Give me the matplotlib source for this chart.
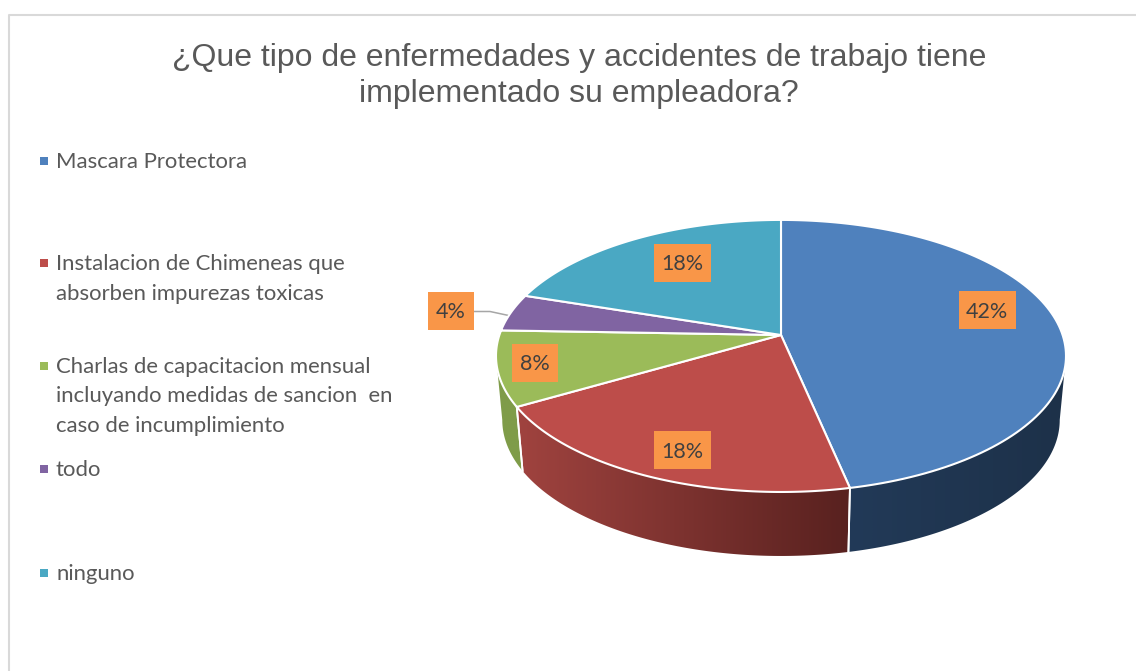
import numpy as np
import matplotlib
matplotlib.use("Agg")
import matplotlib.pyplot as plt
from matplotlib.colors import to_rgb, LinearSegmentedColormap
from matplotlib.patches import Polygon, Rectangle

# ---- data
categories = ["Mascara Protectora",
              "Instalacion de Chimeneas que\nabsorben impurezas toxicas",
              "Charlas de capacitacion mensual\nincluyando medidas de sancion  en\ncaso de incumplimiento",
              "todo",
              "ninguno"]
values = [42, 18, 8, 4, 18]
value_labels = ["42%", "18%", "8%", "4%", "18%"]
title_lines = "¿Que tipo de enfermedades y accidentes de trabajo tiene\nimplementado su empleadora?"

# ---- styles and layout (pixel coordinates)
colors = ["#4f81bd", "#bd4d4a", "#9bbb59", "#8064a2", "#4aa8c3"]
wall_left = ["#223a58", "#a0433f", "#7f9c49", "#5f4a7a", "#357f94"]
wall_right = ["#1d3149", "#58211f", "#7f9c49", "#5f4a7a", "#357f94"]
legend_y = [161, 263, 366, 469, 573]
label_pos = [(987, 310), (682, 450), (535, 363), (451, 311), (682, 263)]
CX, CY = 781.0, 335.0
A, B, K = 132.8, 281.6, 0.154
DEPTH, SHRINK = 64.0, 0.978

fig = plt.figure(figsize=(11.36, 6.71), dpi=100, facecolor="white")
ax = fig.add_axes([0, 0, 1, 1])
ax.set_xlim(0, 1136)
ax.set_ylim(671, 0)
ax.axis("off")

# chart frame
ax.plot([8.5, 8.5, 1136], [671, 14.5, 14.5], color="#d9d9d9", lw=1.5, zorder=1)


def top(theta_deg, r=1.0):
    t = np.radians(theta_deg)
    X, Y = r * np.sin(t), r * np.cos(t)
    d = 1 + K * Y
    return CX + B * X / d, CY - A * Y / d


def bottom(theta_deg):
    x, y = top(theta_deg)
    return CX + (x - CX) * SHRINK, y + DEPTH


angles = np.concatenate([[0], np.cumsum(values) / np.sum(values) * 360.0])
# the wall runs between the two silhouette points of the perspective ellipse
SIL = np.degrees(np.arcsin(K))
WALL_LO, WALL_HI = 90.0 + SIL, 270.0 - SIL

# side walls (front half only), a horizontal gradient clipped to each wall
for i in range(len(values)):
    a0, a1 = max(angles[i], WALL_LO), min(angles[i + 1], WALL_HI)
    if a1 <= a0:
        continue
    th = np.linspace(a0, a1, 120)
    tx, ty = top(th)
    bx, by = bottom(th)
    pts = np.column_stack([np.r_[tx, bx[::-1]], np.r_[ty, by[::-1]]])
    poly = Polygon(pts, closed=True, fc="none", ec="none", transform=ax.transData)
    ax.add_patch(poly)
    cmap = LinearSegmentedColormap.from_list("w", [to_rgb(wall_left[i]), to_rgb(wall_right[i])])
    im = ax.imshow(np.linspace(0, 1, 256)[None, :], cmap=cmap, aspect="auto", zorder=2,
                   extent=(pts[:, 0].min(), pts[:, 0].max(), pts[:, 1].max(), pts[:, 1].min()),
                   interpolation="bilinear")
    im.set_clip_path(poly)
    for a in (a0, a1):
        if WALL_LO < a < WALL_HI:
            p, q = top(a), bottom(a)
            ax.plot([p[0], q[0]], [p[1], q[1]], color="white", lw=1.3, zorder=3)
ax.set_xlim(0, 1136)
ax.set_ylim(671, 0)

# top face
for i in range(len(values)):
    th = np.linspace(angles[i], angles[i + 1], 120)
    xs, ys = top(th)
    pts = np.column_stack([np.r_[CX, xs], np.r_[CY, ys]])
    ax.add_patch(Polygon(pts, closed=True, fc=colors[i], ec="white", lw=1.5,
                         joinstyle="round", zorder=4))

# leader line for the small slice
ax.plot([474, 490, 511], [311.5, 311.5, 316], color="#a6a6a6", lw=1.1, zorder=3)

# data labels
label_font = ["Lato", "DejaVu Sans"]
for (x, y), s in zip(label_pos, value_labels):
    w = 57 if len(s) == 3 else 46
    ax.add_patch(Rectangle((x - w / 2, y - 19), w, 38, fc="#f99648", ec="none", zorder=5))
    ax.text(x, y + 1.5, s, ha="center", va="center", fontsize=15.5, color="#404040",
            family=label_font, zorder=6)

# legend
for name, y, c in zip(categories, legend_y, colors):
    ax.add_patch(Rectangle((40, y - 4), 7.5, 7.5, fc=c, ec="none", zorder=5))
    for j, line in enumerate(name.split("\n")):
        ax.text(56, y + 7 + j * 29.5, line, ha="left", va="baseline",
                fontsize=15.9, color="#595959", family=label_font, zorder=6)

# title
for j, line in enumerate(title_lines.split("\n")):
    ax.text(579, 66 + j * 36, line, ha="center", va="baseline", fontsize=23.0,
            color="#595959", family="Liberation Sans", zorder=6)

fig.savefig("out.png", dpi=100, facecolor="white")
